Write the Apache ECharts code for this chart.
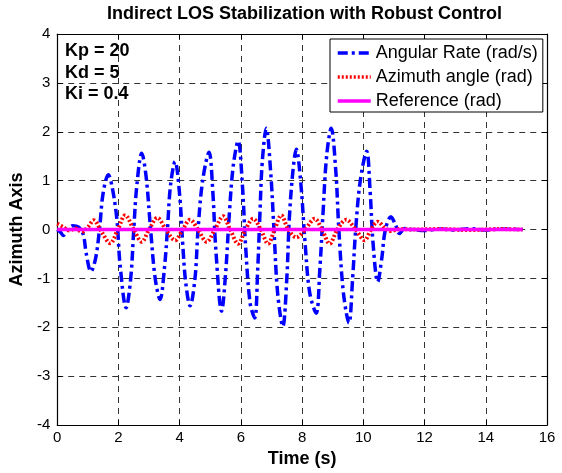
<!DOCTYPE html>
<html>
<head>
<meta charset="utf-8">
<script src="https://cdn.jsdelivr.net/npm/echarts@6/dist/echarts.min.js"></script>
<style>
  html, body { margin: 0; padding: 0; background: #fff; }
  #chart { width: 562px; height: 473px; }
</style>
</head>
<body>
<div id="chart"></div>
<script>
// values
var rateTime = [0, 0.1, 0.2, 0.35, 0.5, 0.7, 0.85, 0.95, 1.1, 1.25, 1.38, 1.5, 1.67, 1.8, 1.95, 2.05, 2.25, 2.4, 2.5, 2.6,
	2.76, 2.9, 3.05, 3.2, 3.36, 3.5, 3.6, 3.7, 3.85, 4.0, 4.1, 4.2, 4.34, 4.5, 4.6, 4.75, 4.96, 5.08, 5.18, 5.37,
	5.5, 5.62, 5.75, 5.91, 6.05, 6.15, 6.3, 6.45, 6.55, 6.62, 6.7, 6.83, 6.97, 7.08, 7.2, 7.37, 7.5, 7.58, 7.7, 7.81,
	7.95, 8.1, 8.25, 8.46, 8.58, 8.68, 8.8, 8.95, 9.1, 9.2, 9.35, 9.53, 9.65, 9.75, 9.9, 10.11, 10.22, 10.32, 10.47, 10.6,
	10.72, 10.9, 11.05, 11.18, 11.35, 11.6, 12.0, 12.5, 13.0, 13.5, 14.0, 14.5, 15.2];
var angularRate = [0, -0.05, -0.12, 0, 0.08, 0.05, -0.1, -0.5, -0.86, -0.6, 0, 0.75, 1.12, 0.85, 0.2, -0.7, -1.6, -1.0, 0, 0.9,
	1.56, 1.1, 0, -1.0, -1.43, -0.8, 0, 0.9, 1.39, 0.7, -0.3, -1.1, -1.56, -1.0, 0, 1.0, 1.58, 0.8, -0.4, -1.67,
	-0.9, 0.3, 1.3, 1.81, 0.9, -0.3, -1.5, -1.81, -0.8, 0.3, 1.4, 2.07, 1.2, 0, -1.3, -1.98, -1.0, 0.2, 1.2, 1.64,
	1.0, -0.3, -1.3, -1.71, -0.8, 0.3, 1.5, 2.07, 1.2, 0, -1.3, -1.91, -1.0, 0, 1.0, 1.6, 0.8, -0.3, -1.07, -0.6,
	0, 0.26, 0.1, -0.08, 0.02, 0, -0.02, 0.01, -0.01, 0.02, -0.01, 0.01, 0];

var angleTime = [0, 0.2, 0.4, 0.6, 0.8, 1.0, 1.19, 1.45, 1.73, 1.98, 2.22, 2.5, 2.76, 3.0, 3.27, 3.55, 3.85, 4.1, 4.34, 4.6,
	4.88, 5.15, 5.42, 5.65, 5.91, 6.15, 6.4, 6.65, 6.89, 7.1, 7.32, 7.55, 7.81, 8.1, 8.41, 8.65, 8.9, 9.15, 9.44, 9.75,
	10.04, 10.25, 10.47, 10.7, 10.9, 11.2, 11.6, 12.5, 13.5, 14.5, 15.2];
var azimuthAngle = [0.12, 0.05, -0.02, 0.02, -0.05, 0.05, 0.19, -0.05, -0.28, 0, 0.29, 0, -0.25, 0, 0.24, 0, -0.22, 0, 0.2, 0,
	-0.25, 0, 0.27, 0, -0.29, 0, 0.22, 0, -0.29, 0, 0.29, 0, -0.16, 0, 0.22, 0, -0.29, 0, 0.2, 0,
	-0.22, 0, 0.16, 0.03, -0.03, 0.01, 0, 0.01, -0.01, 0.01, 0];

var refTime = [0, 15.2];
var reference = [0, 0];

var xTicks = [0, 2, 4, 6, 8, 10, 12, 14, 16];
var yTicks = [-4, -3, -2, -1, 0, 1, 2, 3, 4];
var gains = ['Kp = 20', 'Kd = 5', 'Ki = 0.4'];

function pairs(xs, ys) {
	var out = [];
	for (var i = 0; i < xs.length; i++) out.push([xs[i], ys[i]]);
	return out;
}

var font = 'Arial, "Liberation Sans", sans-serif';
var gridDash = { show: true, lineStyle: { color: '#333', type: [6, 5], width: 1 } };
var tickIn = { show: true, inside: true, length: 5, lineStyle: { color: '#000' } };
var line = { show: true, onZero: false, lineStyle: { color: '#000', width: 1.2 } };

var myChart = echarts.init(document.getElementById('chart'));

var option = {
	animation: false,
	backgroundColor: '#fff',
	title: {
		text: 'Indirect LOS Stabilization with Robust Control',
		left: 107, top: 5, padding: 0,
		textStyle: { fontFamily: font, fontSize: 18, fontWeight: 'bold', color: '#000' }
	},
	grid: { left: 56, right: 15, top: 34, bottom: 44 },
	legend: {
		orient: 'vertical',
		left: 330, top: 39,
		padding: [5, 5, 2, 6],
		itemWidth: 33, itemHeight: 14, itemGap: 6,
		borderColor: '#000', borderWidth: 1,
		backgroundColor: '#fff',
		itemStyle: { opacity: 0 },
		lineStyle: { width: 3.5 },
		textStyle: { fontFamily: font, fontSize: 18, color: '#000', lineHeight: 18 },
		data: ['Angular Rate (rad/s)', 'Azimuth angle (rad)', 'Reference (rad)']
	},
	graphic: gains.map(function (g, i) {
		return {
			type: 'text', left: 65, top: 42 + i * 21.7, z: 10,
			style: { text: g, font: 'bold 18px ' + font, fill: '#000' }
		};
	}),
	xAxis: [{
		type: 'value', min: xTicks[0], max: xTicks[xTicks.length - 1], interval: 2,
		name: 'Time (s)', nameLocation: 'middle', nameGap: 21,
		nameTextStyle: { fontFamily: font, fontSize: 18, fontWeight: 'bold', color: '#000' },
		axisLine: line, axisTick: tickIn, splitLine: gridDash,
		axisLabel: { margin: 5, fontFamily: font, fontSize: 15, color: '#000' }
	}, {
		type: 'value', position: 'top', min: xTicks[0], max: xTicks[xTicks.length - 1], interval: 2,
		axisLine: line, axisTick: tickIn, splitLine: { show: false }, axisLabel: { show: false }
	}],
	yAxis: [{
		type: 'value', min: yTicks[0], max: yTicks[yTicks.length - 1], interval: 1,
		name: 'Azimuth Axis', nameLocation: 'middle', nameGap: 23,
		nameTextStyle: { fontFamily: font, fontSize: 18, fontWeight: 'bold', color: '#000' },
		axisLine: line, axisTick: tickIn, splitLine: gridDash,
		axisLabel: { margin: 7, fontFamily: font, fontSize: 15, color: '#000' }
	}, {
		type: 'value', position: 'right', min: yTicks[0], max: yTicks[yTicks.length - 1], interval: 1,
		axisLine: line, axisTick: tickIn, splitLine: { show: false }, axisLabel: { show: false }
	}],
	series: [{
		name: 'Angular Rate (rad/s)', type: 'line', smooth: 0.35, symbol: 'none',
		data: pairs(rateTime, angularRate),
		lineStyle: { color: '#0000ff', width: 3.5, type: [10, 4, 3, 4] },
		itemStyle: { color: '#0000ff' }
	}, {
		name: 'Azimuth angle (rad)', type: 'line', smooth: 0.35, symbol: 'none',
		data: pairs(angleTime, azimuthAngle),
		lineStyle: { color: '#ff0000', width: 4, type: [2, 2] },
		itemStyle: { color: '#ff0000' }
	}, {
		name: 'Reference (rad)', type: 'line', symbol: 'none',
		data: pairs(refTime, reference),
		lineStyle: { color: '#ff00ff', width: 3.5 },
		itemStyle: { color: '#ff00ff' }
	}]
};

myChart.setOption(option);
</script>
</body>
</html>
